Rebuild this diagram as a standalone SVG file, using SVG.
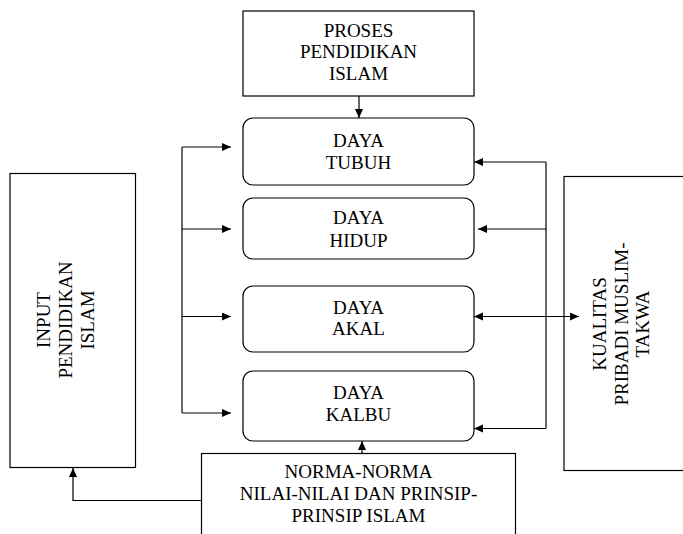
<svg xmlns="http://www.w3.org/2000/svg" width="683" height="534" viewBox="0 0 683 534">
<defs>
<marker id="ah" markerUnits="userSpaceOnUse" markerWidth="10" markerHeight="10" refX="9" refY="4" orient="auto-start-reverse">
<path d="M0,0 L9,4 L0,8 z" fill="#000"/>
</marker>
<style>
.box{fill:#fff;stroke:#000;stroke-width:1.2}
.c{fill:none;stroke:#000;stroke-width:1.2}
.a{marker-end:url(#ah)}
</style>
</defs>
<rect width="683" height="534" fill="#fff"/>
<g id="proses">
<rect class="box" x="243" y="11" width="231" height="85"/>
<text font-family="Liberation Serif" font-size="19" text-anchor="middle" x="358.5" y="36.5">PROSES</text>
<text font-family="Liberation Serif" font-size="19" text-anchor="middle" x="358.5" y="58">PENDIDIKAN</text>
<text font-family="Liberation Serif" font-size="19" text-anchor="middle" x="358.5" y="80">ISLAM</text>
</g>
<g id="tubuh">
<rect class="box" x="243" y="118" width="231" height="67" rx="10"/>
<text font-family="Liberation Serif" font-size="19" text-anchor="middle" x="358.5" y="147">DAYA</text>
<text font-family="Liberation Serif" font-size="19" text-anchor="middle" x="358.5" y="168.5">TUBUH</text>
</g>
<g id="hidup">
<rect class="box" x="243" y="198" width="231" height="61" rx="10"/>
<text font-family="Liberation Serif" font-size="19" text-anchor="middle" x="358.5" y="224">DAYA</text>
<text font-family="Liberation Serif" font-size="19" text-anchor="middle" x="358.5" y="246.5">HIDUP</text>
</g>
<g id="akal">
<rect class="box" x="243" y="286" width="231" height="66" rx="10"/>
<text font-family="Liberation Serif" font-size="19" text-anchor="middle" x="358.5" y="313.5">DAYA</text>
<text font-family="Liberation Serif" font-size="19" text-anchor="middle" x="358.5" y="335">AKAL</text>
</g>
<g id="kalbu">
<rect class="box" x="243" y="371" width="231" height="70" rx="10"/>
<text font-family="Liberation Serif" font-size="19" text-anchor="middle" x="358.5" y="398.5">DAYA</text>
<text font-family="Liberation Serif" font-size="19" text-anchor="middle" x="358.5" y="420.5">KALBU</text>
</g>
<g id="input">
<rect class="box" x="10" y="173.5" width="125.5" height="294"/>
<text font-family="Liberation Serif" font-size="19" text-anchor="middle" transform="translate(0,320) rotate(-90)" x="0" y="50">INPUT</text>
<text font-family="Liberation Serif" font-size="19" text-anchor="middle" transform="translate(0,320) rotate(-90)" x="0" y="72">PENDIDIKAN</text>
<text font-family="Liberation Serif" font-size="19" text-anchor="middle" transform="translate(0,320) rotate(-90)" x="0" y="94">ISLAM</text>
</g>
<g id="kualitas">
<rect class="box" x="564" y="176.5" width="140" height="294"/>
<text font-family="Liberation Serif" font-size="19" text-anchor="middle" transform="translate(0,324) rotate(-90)" x="0" y="605.5">KUALITAS</text>
<text font-family="Liberation Serif" font-size="19" text-anchor="middle" transform="translate(0,324) rotate(-90)" x="0" y="627.5">PRIBADI MUSLIM-</text>
<text font-family="Liberation Serif" font-size="19" text-anchor="middle" transform="translate(0,324) rotate(-90)" x="0" y="649">TAKWA</text>
</g>
<g id="norma">
<rect class="box" x="201.5" y="453.5" width="314" height="100"/>
<text font-family="Liberation Serif" font-size="19" text-anchor="middle" x="358.5" y="477.5">NORMA-NORMA</text>
<text font-family="Liberation Serif" font-size="19" text-anchor="middle" x="358.5" y="499.5">NILAI-NILAI DAN PRINSIP-</text>
<text font-family="Liberation Serif" font-size="19" text-anchor="middle" x="358.5" y="521.5">PRINSIP ISLAM</text>
</g>
<g id="connectors">
<path class="c a" d="M359,96 V118"/>
<path class="c" d="M182,147 V413"/>
<path class="c a" d="M182,147 H231"/>
<path class="c a" d="M182,229 H231"/>
<path class="c a" d="M182,316.5 H231"/>
<path class="c a" d="M182,413 H231"/>
<path class="c" d="M546,162 V428.5"/>
<path class="c a" d="M546,162 H474"/>
<path class="c a" d="M546,229 H478"/>
<path class="c a" d="M546,428.5 H474"/>
<path class="c a" d="M474,316.5 H579" style="marker-start:url(#ah)"/>
<path class="c a" d="M362,453.5 V441"/>
<path class="c a" d="M201.5,500.5 H73 V468"/>
</g>
</svg>
